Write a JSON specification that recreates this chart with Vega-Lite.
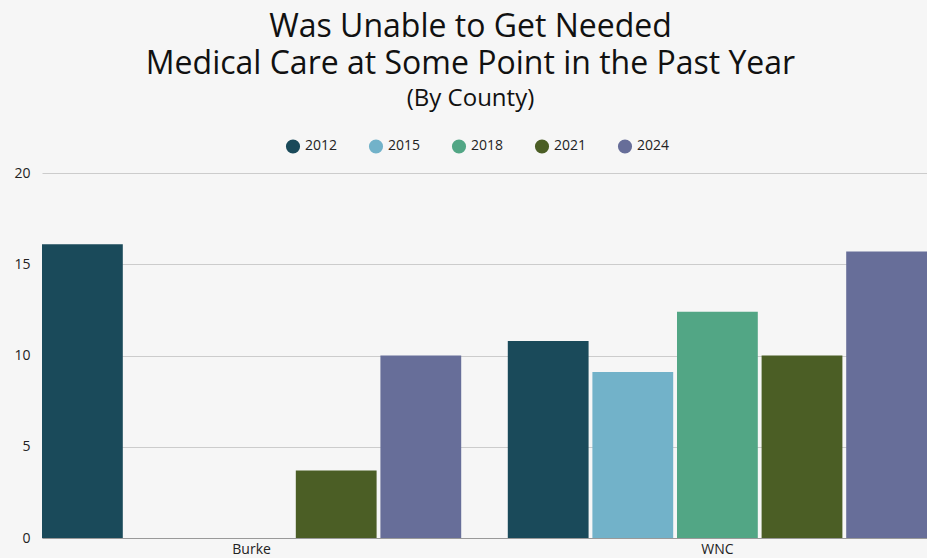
{
  "$schema": "https://vega.github.io/schema/vega-lite/v6.json",
  "width": 885,
  "height": 365,
  "autosize": {"type": "none"},
  "padding": {"left": 42, "top": 173, "right": 0, "bottom": 20},
  "background": "#f6f6f6",
  "config": {
    "font": "Open Sans",
    "view": {"stroke": null}
  },
  "title": {
    "text": ["Was Unable to Get Needed", "Medical Care at Some Point in the Past Year"],
    "subtitle": "(By County)",
    "anchor": "middle",
    "frame": "bounds",
    "fontSize": 32,
    "fontWeight": "normal",
    "lineHeight": 37,
    "color": "#111111",
    "subtitleFontSize": 24,
    "subtitleColor": "#111111",
    "subtitlePadding": 6,
    "offset": 26
  },
  "data": {
    "values": [
      {"county": "Burke", "year": "2012", "value": 16.1},
      {"county": "Burke", "year": "2021", "value": 3.7},
      {"county": "Burke", "year": "2024", "value": 10.0},
      {"county": "WNC", "year": "2012", "value": 10.8},
      {"county": "WNC", "year": "2015", "value": 9.1},
      {"county": "WNC", "year": "2018", "value": 12.4},
      {"county": "WNC", "year": "2021", "value": 10.0},
      {"county": "WNC", "year": "2024", "value": 15.7}
    ]
  },
  "mark": {"type": "bar"},
  "encoding": {
    "x": {
      "field": "county",
      "type": "nominal",
      "scale": {"paddingInner": 0.1, "paddingOuter": 0},
      "axis": {
        "title": null,
        "labelAngle": 0,
        "ticks": false,
        "domainColor": "#999999",
        "labelFontSize": 14,
        "labelColor": "#222222",
        "labelPadding": 4
      }
    },
    "xOffset": {
      "field": "year",
      "type": "nominal",
      "scale": {"paddingInner": 0.045, "paddingOuter": 0}
    },
    "y": {
      "field": "value",
      "type": "quantitative",
      "scale": {"domain": [0, 20]},
      "axis": {
        "title": null,
        "values": [0, 5, 10, 15, 20],
        "domain": false,
        "ticks": false,
        "gridColor": "#cccccc",
        "labelFontSize": 14,
        "labelColor": "#222222",
        "labelPadding": 12
      }
    },
    "color": {
      "field": "year",
      "type": "nominal",
      "scale": {
        "domain": ["2012", "2015", "2018", "2021", "2024"],
        "range": ["#1a4a5a", "#72b2c9", "#52a685", "#4b5e25", "#676e99"]
      },
      "legend": {
        "title": null,
        "orient": "none",
        "legendX": 243,
        "legendY": -35,
        "direction": "horizontal",
        "symbolType": "circle",
        "symbolSize": 200,
        "labelFontSize": 14,
        "labelColor": "#222222",
        "columnPadding": 30
      }
    }
  }
}
